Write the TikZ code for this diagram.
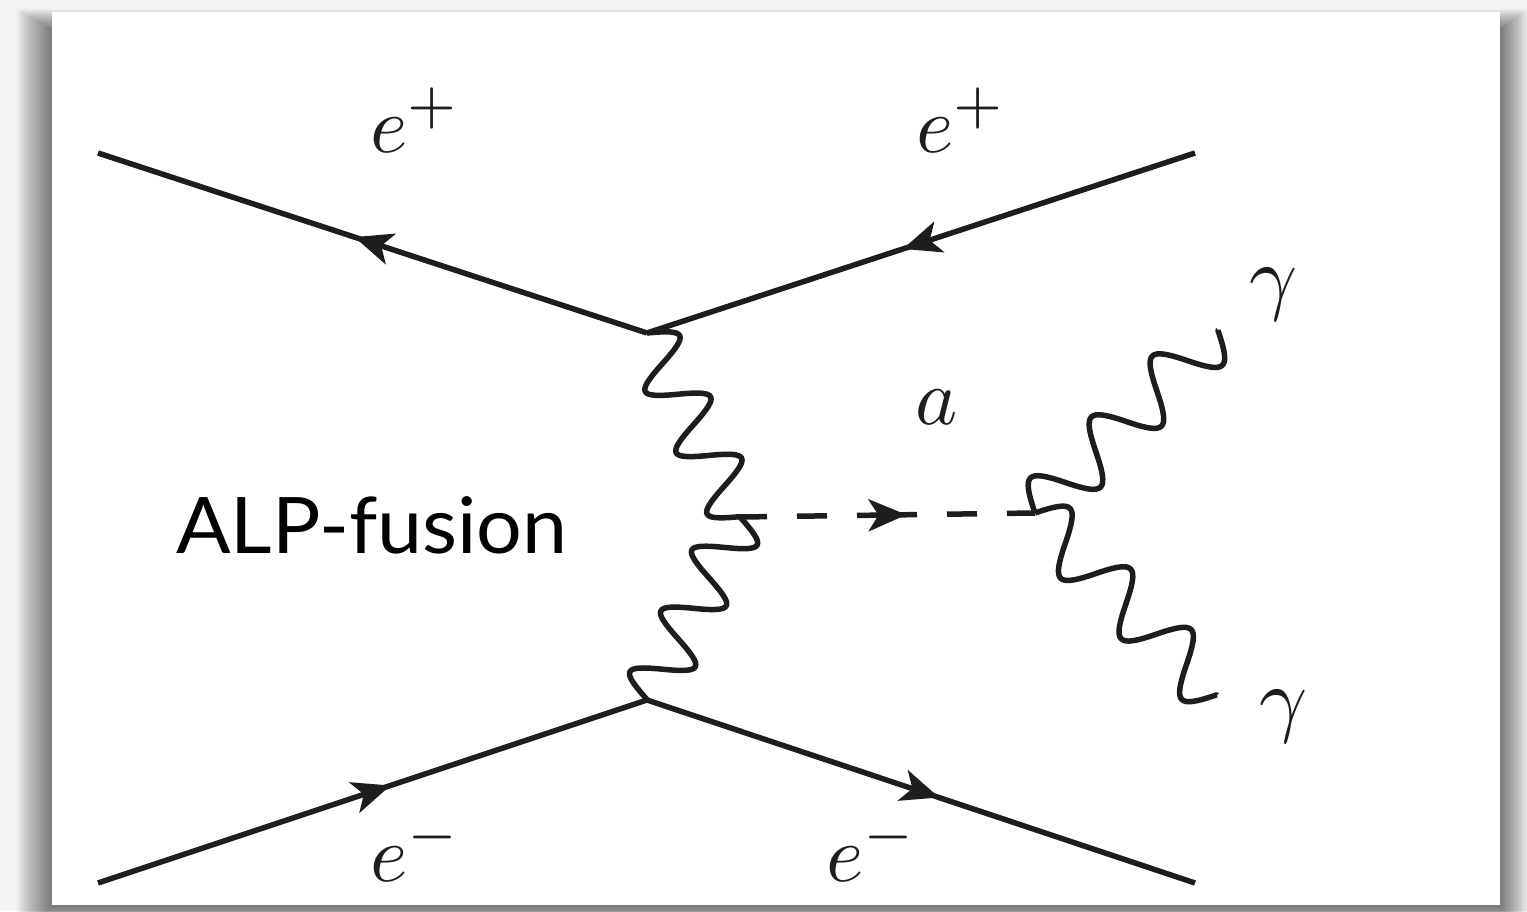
\documentclass[tikz,border=0pt]{standalone}
\usepackage{fontspec}
\newfontfamily\alpfont[FakeStretch=1.035]{Lato}
\usetikzlibrary{arrows.meta,decorations.markings}
\pgfdeclaredecoration{sinewave}{up}{
  \state{up}[width=0.5\pgfdecorationsegmentlength, next state=down]{
    \pgfpathcurveto
      {\pgfqpoint{0.2122\pgfdecorationsegmentlength}{1.3333\pgfdecorationsegmentamplitude}}
      {\pgfqpoint{0.2878\pgfdecorationsegmentlength}{1.3333\pgfdecorationsegmentamplitude}}
      {\pgfqpoint{0.5\pgfdecorationsegmentlength}{0pt}}
  }
  \state{down}[width=0.5\pgfdecorationsegmentlength, next state=up]{
    \pgfpathcurveto
      {\pgfqpoint{0.2122\pgfdecorationsegmentlength}{-1.3333\pgfdecorationsegmentamplitude}}
      {\pgfqpoint{0.2878\pgfdecorationsegmentlength}{-1.3333\pgfdecorationsegmentamplitude}}
      {\pgfqpoint{0.5\pgfdecorationsegmentlength}{0pt}}
  }
  \state{final}{\pgfpathlineto{\pgfpointdecoratedpathlast}}
}
\definecolor{bggray}{HTML}{F5F5F5}
\definecolor{ink}{HTML}{1E1C1D}
\tikzset{
  fermion/.style={draw=ink, line width=5.5pt, postaction={decorate},
    decoration={markings, mark=at position 0.5 with {\arrow[xshift=19pt,ink]{Stealth[length=38pt,width=32pt,inset=10pt]}}}},
  scalarline/.style={draw=ink, line width=5.5pt,
    dash pattern=on 27pt off 30pt on 30pt off 30pt on 60pt off 30pt on 30pt off 30pt on 40pt off 30pt,
    postaction={decorate},
    decoration={markings, mark=at position 0.5 with {\arrow[xshift=19pt,ink]{Stealth[length=38pt,width=32pt,inset=10pt]}}}},
  photon/.style={draw=ink, line width=5.5pt, line join=round, decorate,
    decoration={sinewave, segment length=#1, amplitude=28pt}},
  lbl/.style={inner sep=0pt, scale=8, text=ink},
}
\begin{document}
\begin{tikzpicture}[x=1pt,y=-1pt]
\useasboundingbox (0,0) rectangle (1527,911);
\fill[bggray] (0,0) rectangle (1527,911);
\foreach \i in {1,...,36}{
  \fill[black,opacity=0.014] ({52-\i},{30-0.6*\i}) rectangle ({1500+0.8*\i},{905+\i});
}
\fill[white] (52,12) rectangle (1500,905);

\coordinate (vtop) at (647,333);
\coordinate (vbot) at (647,700);
\coordinate (m) at (740,517);
\coordinate (r) at (1035,513);
\coordinate (p1) at (98,153);
\coordinate (p2) at (1195,153);
\coordinate (p3) at (98,883);
\coordinate (p4) at (1195,883);
\coordinate (g1) at (1218,330);
\coordinate (g2) at (1217,695);

\draw[fermion] (vtop) -- (p1);
\draw[fermion] (p2) -- (vtop);
\draw[fermion] (p3) -- (vbot);
\draw[fermion] (vbot) -- (p4);

\draw[photon=68.6pt] (vtop) -- (m);
\draw[photon=68.3pt] (m) -- (vbot);
\draw[photon=86.2pt] (r) -- (g1);
\draw[photon=85.7pt] (r) -- (g2);

\draw[scalarline] (m) -- (r);

\node[lbl, anchor=base west] (epl) at (369,152) {$e^+$};
\node[lbl, anchor=base west] (epr) at (915,152) {$e^+$};
\node[lbl, anchor=base west] (eml) at (369,881) {$e^-$};
\node[lbl, anchor=base west] (emr) at (825,881) {$e^-$};
\node[lbl, anchor=base] (alab) at (937,424) {$a$};
\node[lbl, anchor=base, scale=1.05] (g1lab) at (1274,304) {$\gamma$};
\node[lbl, anchor=base, scale=1.05] (g2lab) at (1284,726) {$\gamma$};
\node[inner sep=0pt, anchor=base west, text=black] (alp) at (176,553) {\alpfont\fontsize{78}{78}\selectfont ALP-fusion};
\end{tikzpicture}
\end{document}
